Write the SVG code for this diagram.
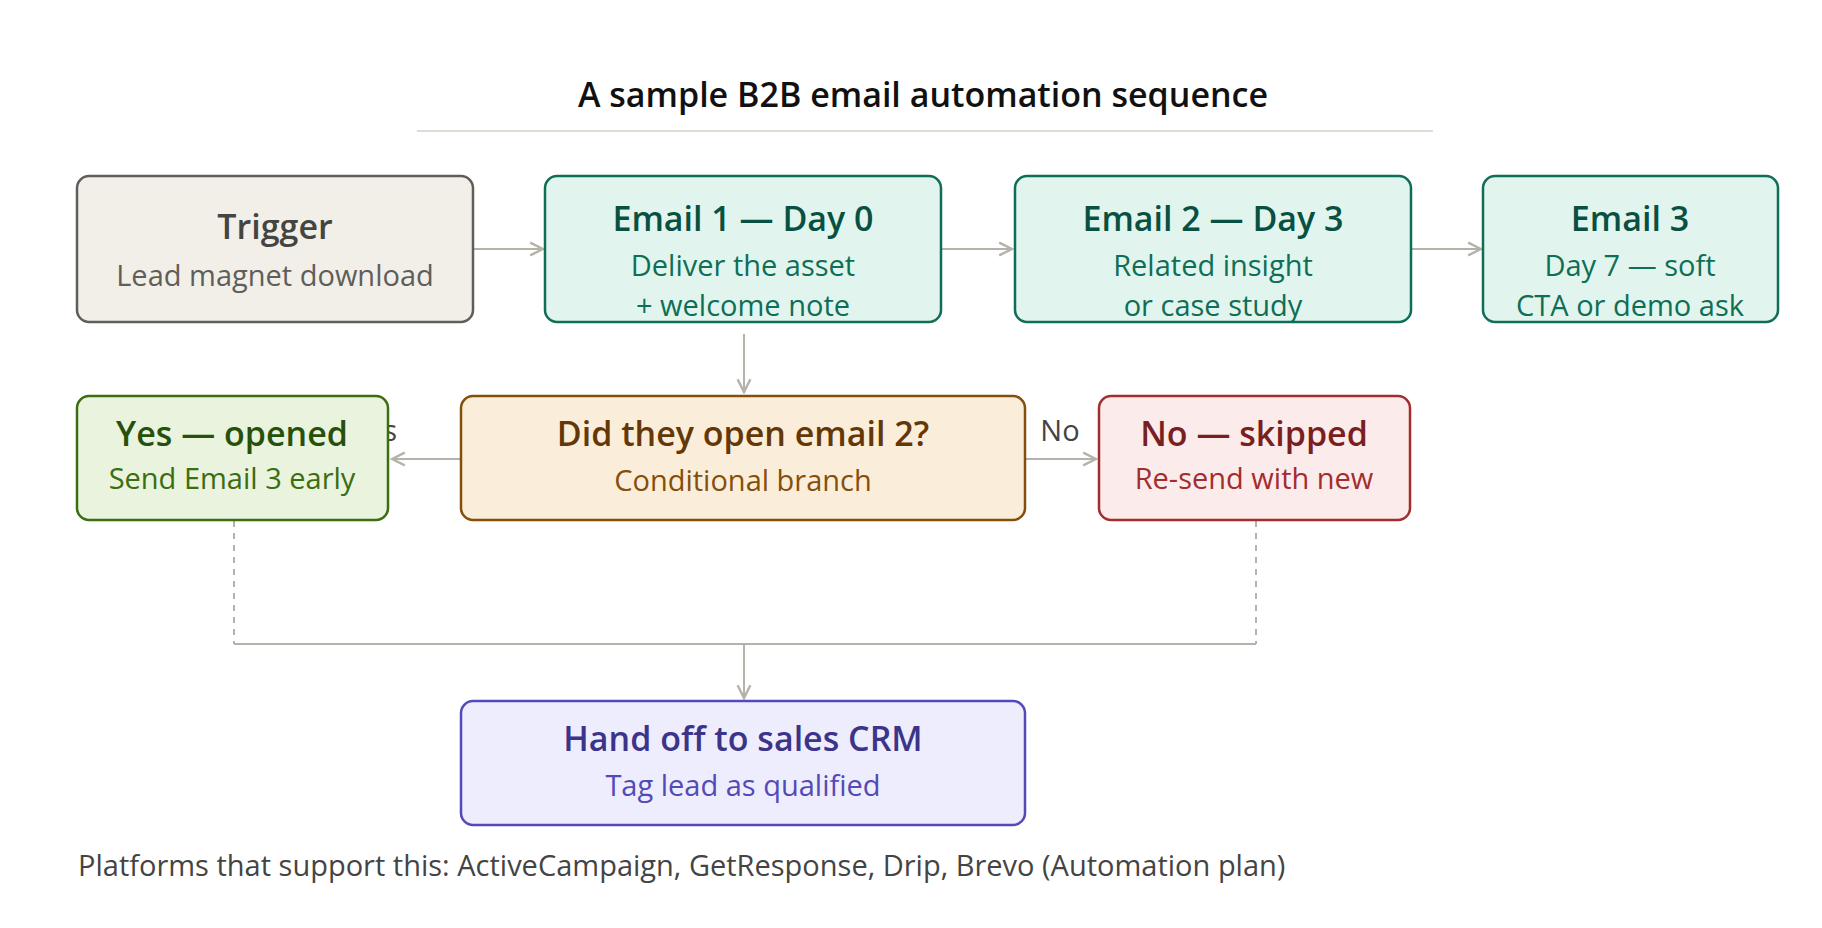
<svg xmlns="http://www.w3.org/2000/svg" width="1822" height="928" viewBox="0 0 1822 928">
<style>
text{font-family:"Open Sans","Noto Sans","Liberation Sans",sans-serif;text-anchor:middle}
.t{font-size:34px;font-weight:600}
.s{font-size:29px}
.c{stroke:#b4b2a9;stroke-width:2;fill:none}
.d{stroke-dasharray:6 6}
rect{stroke-width:2.5}
</style>
<defs><marker id="a" viewBox="0 0 10 10" refX="9" refY="5" markerWidth="8" markerHeight="8" orient="auto-start-reverse"><path d="M1 1L9 5L1 9" fill="none" stroke="#b4b2a9" stroke-width="1.5"/></marker></defs>
<rect width="1822" height="928" fill="#fff" stroke="none"/>
<text x="923" y="107" style="font-size:34px;font-weight:600" fill="#111">A sample B2B email automation sequence</text>
<line x1="417" y1="131" x2="1433" y2="131" stroke="#d3d1c7" stroke-width="1.5"/>
<g id="connectors">
<line class="c" x1="473" y1="249" x2="543" y2="249" marker-end="url(#a)"/>
<line class="c" x1="941" y1="249" x2="1012" y2="249" marker-end="url(#a)"/>
<line class="c" x1="1411" y1="249" x2="1481" y2="249" marker-end="url(#a)"/>
<line class="c" x1="744" y1="334" x2="744" y2="392" marker-end="url(#a)"/>
<line class="c" x1="461" y1="459" x2="392" y2="459" marker-end="url(#a)"/>
<line class="c" x1="1025" y1="459" x2="1096" y2="459" marker-end="url(#a)"/>
<text x="374" y="441" class="s" fill="#444">Yes</text>
<text x="1060" y="441" class="s" fill="#444">No</text>
<line class="c d" x1="234" y1="521" x2="234" y2="644"/>
<line class="c d" x1="1256" y1="521" x2="1256" y2="644"/>
<line class="c" x1="234" y1="644" x2="1256" y2="644"/>
<line class="c" x1="744" y1="644" x2="744" y2="698" marker-end="url(#a)"/>
</g>
<g id="trigger"><rect x="77" y="176" width="396" height="146" rx="12" fill="#f1efe8" stroke="#5f5e5a"/>
<text x="275" y="239" class="t" fill="#444441">Trigger</text><text x="275" y="286" class="s" fill="#5f5e5a">Lead magnet download</text></g>
<g id="email1"><rect x="545" y="176" width="396" height="146" rx="12" fill="#e1f5ee" stroke="#0f6e56"/>
<text x="743" y="231" class="t" fill="#085041">Email 1 — Day 0</text><text x="743" y="276" class="s" fill="#0f6e56">Deliver the asset</text><text x="743" y="316" class="s" fill="#0f6e56">+ welcome note</text></g>
<g id="email2"><rect x="1015" y="176" width="396" height="146" rx="12" fill="#e1f5ee" stroke="#0f6e56"/>
<text x="1213" y="231" class="t" fill="#085041">Email 2 — Day 3</text><text x="1213" y="276" class="s" fill="#0f6e56">Related insight</text><text x="1213" y="316" class="s" fill="#0f6e56">or case study</text></g>
<g id="email3"><rect x="1483" y="176" width="295" height="146" rx="12" fill="#e1f5ee" stroke="#0f6e56"/>
<text x="1630" y="231" class="t" fill="#085041">Email 3</text><text x="1630" y="276" class="s" fill="#0f6e56">Day 7 — soft</text><text x="1630" y="316" class="s" fill="#0f6e56">CTA or demo ask</text></g>
<g id="yes"><rect x="77" y="396" width="311" height="124" rx="12" fill="#eaf3de" stroke="#3b6d11"/>
<text x="232" y="446" class="t" fill="#27500a">Yes — opened</text><text x="232" y="489" class="s" fill="#3b6d11">Send Email 3 early</text></g>
<g id="decision"><rect x="461" y="396" width="564" height="124" rx="12" fill="#faeeda" stroke="#854f0b"/>
<text x="743" y="446" class="t" fill="#633806">Did they open email 2?</text><text x="743" y="491" class="s" fill="#854f0b">Conditional branch</text></g>
<g id="no"><rect x="1099" y="396" width="311" height="124" rx="12" fill="#fcebeb" stroke="#a32d2d"/>
<text x="1254" y="446" class="t" fill="#791f1f">No — skipped</text><text x="1254" y="489" class="s" fill="#a32d2d">Re-send with new</text></g>
<g id="crm"><rect x="461" y="701" width="564" height="124" rx="12" fill="#eeedfe" stroke="#534ab7"/>
<text x="743" y="751" class="t" fill="#3c3489">Hand off to sales CRM</text><text x="743" y="796" class="s" fill="#534ab7">Tag lead as qualified</text></g>
<text x="78" y="876" class="s" fill="#444" style="text-anchor:start">Platforms that support this: ActiveCampaign, GetResponse, Drip, Brevo (Automation plan)</text>
</svg>
